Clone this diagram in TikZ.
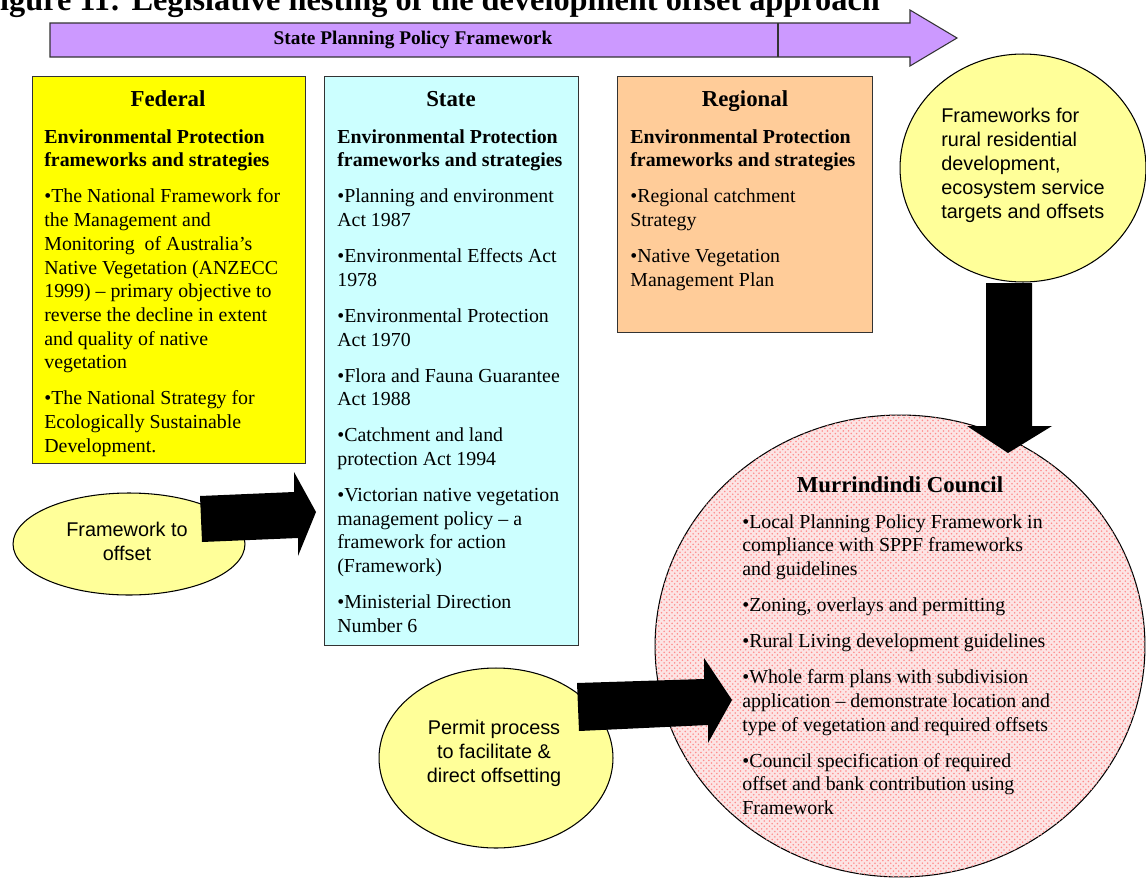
\documentclass[tikz,border=0pt]{standalone}
\usepackage{fontspec}
\setmainfont{Liberation Serif}
\setsansfont{Liberation Sans}
\usetikzlibrary{shapes.geometric,patterns}

\definecolor{sppfpurple}{HTML}{CC99FF}
\definecolor{fedyellow}{HTML}{FFFF00}
\definecolor{statecyan}{HTML}{CCFFFF}
\definecolor{regorange}{HTML}{FFCC99}
\definecolor{paleyellow}{HTML}{FFFF99}
\definecolor{councilpink}{HTML}{FCE4E4}

\newcommand{\paragap}{7pt}

\tikzset{
  levelbox/.style={draw=black!80, line width=0.6pt, anchor=north west, inner sep=0pt},
  levelhead/.style={anchor=base, inner sep=0pt, font=\fontsize{13}{15}\selectfont\bfseries},
  leveltext/.style={anchor=north west, inner sep=0pt, align=left,
    font=\fontsize{11.3}{13.5}\selectfont},
  bubble/.style={ellipse, draw=black, line width=0.6pt, fill=paleyellow, inner sep=0pt},
  bubbletext/.style={inner sep=0pt, font=\sffamily\fontsize{11.3}{13.6}\selectfont},
  blockarrow/.style={fill=black},
}

\begin{document}
\begin{tikzpicture}[x=0.02cm, y=-0.02cm]
  \useasboundingbox (0,0) rectangle (1146,879);
  \clip (0,0) rectangle (1146,879);

  % caption, cut by the page edge
  \node[anchor=base west, inner sep=0pt, font=\fontsize{18.4}{21}\selectfont\bfseries] (caption)
    at (-20,10.5) {Figure 11: Legislative nesting of the development offset approach};

  % state planning policy arrow
  \filldraw[draw=black!80, fill=sppfpurple, line width=0.6pt]
    (50,23) -- (910,23) -- (910,10) -- (957,38) -- (910,66) -- (910,57) -- (50,57) -- cycle;
  \draw[black!80, line width=0.6pt] (778,23) -- (778,57);
  \node[inner sep=0pt, font=\fontsize{11}{13}\selectfont\bfseries] (sppf) at (413,40)
    {State Planning Policy Framework};

  % the three levels
  \node[levelbox, fill=fedyellow, minimum width=5.46cm, minimum height=7.74cm] (federal) at (32,76) {};
  \node[levelbox, fill=statecyan, minimum width=5.08cm, minimum height=11.38cm] (state) at (324,76) {};
  \node[levelbox, fill=regorange, minimum width=5.1cm, minimum height=5.12cm] (regional) at (617,76) {};

  \node[levelhead] (federalhead) at (168,106) {Federal};
  \node[levelhead] (statehead) at (451,106) {State};
  \node[levelhead] (regionalhead) at (745,106) {Regional};

  \node[leveltext] (federaltext) at (44,129) {%
    \textbf{Environmental Protection}\\
    \textbf{frameworks and strategies}\\[\paragap]
    •The National Framework for\\
    the Management and\\
    Monitoring\ \ of Australia’s\\
    Native Vegetation (ANZECC\\
    1999) – primary objective to\\
    reverse the decline in extent\\
    and quality of native\\
    vegetation\\[\paragap]
    •The National Strategy for\\
    Ecologically Sustainable\\
    Development.};

  \node[leveltext] (statetext) at (337,129) {%
    \textbf{Environmental Protection}\\
    \textbf{frameworks and strategies}\\[\paragap]
    •Planning and environment\\
    Act 1987\\[\paragap]
    •Environmental Effects Act\\
    1978\\[\paragap]
    •Environmental Protection\\
    Act 1970\\[\paragap]
    •Flora and Fauna Guarantee\\
    Act 1988\\[\paragap]
    •Catchment and land\\
    protection Act 1994\\[\paragap]
    •Victorian native vegetation\\
    management policy – a\\
    framework for action\\
    (Framework)\\[\paragap]
    •Ministerial Direction\\
    Number 6};

  \node[leveltext] (regionaltext) at (630,129) {%
    \textbf{Environmental Protection}\\
    \textbf{frameworks and strategies}\\[\paragap]
    •Regional catchment\\
    Strategy\\[\paragap]
    •Native Vegetation\\
    Management Plan};

  % council
  \node[ellipse, draw=black, line width=0.6pt, fill=councilpink,
    postaction={pattern=crosshatch dots, pattern color=red!45},
    minimum width=9.8cm, minimum height=9.24cm] (council) at (900,646) {};
  \node[levelhead] (councilhead) at (900,492) {Murrindindi Council};
  \node[leveltext] (counciltext) at (742,514) {%
    •Local Planning Policy Framework in\\
    compliance with SPPF frameworks\\
    and guidelines\\[\paragap]
    •Zoning, overlays and permitting\\[\paragap]
    •Rural Living development guidelines\\[\paragap]
    •Whole farm plans with subdivision\\
    application – demonstrate location and\\
    type of vegetation and required offsets\\[\paragap]
    •Council specification of required\\
    offset and bank contribution using\\
    Framework};

  % bubbles
  \node[bubble, minimum width=4.92cm, minimum height=4.56cm] (rural) at (1023,168) {};
  \node[bubbletext, align=left] (ruraltext) at (1023,165.5)
    {Frameworks for\\rural residential\\development,\\ecosystem service\\targets and offsets};
  \node[bubble, minimum width=4.64cm, minimum height=2.04cm] (offsetframe) at (129,544) {};
  \node[bubbletext, align=center] (offsettext) at (127,541) {Framework to\\offset};
  \node[bubble, minimum width=4.68cm, minimum height=3.6cm] (permit) at (496,758) {};
  \node[bubbletext, align=center] (permittext) at (494,753)
    {Permit process\\to facilitate \&\\direct offsetting};

  % block arrows
  \fill[blockarrow] (986,283) -- (1032,283) -- (1032,426) -- (1052,426) -- (1008,453)
    -- (967,426) -- (986,426) -- cycle;
  \fill[blockarrow] (200,496) -- (294,492) -- (294,472) -- (316,512) -- (298,556)
    -- (298,538) -- (202,542) -- cycle;
  \fill[blockarrow] (577,683) -- (704,679) -- (704,658) -- (732,700) -- (708,743)
    -- (708,725) -- (579,731) -- cycle;
\end{tikzpicture}
\end{document}
